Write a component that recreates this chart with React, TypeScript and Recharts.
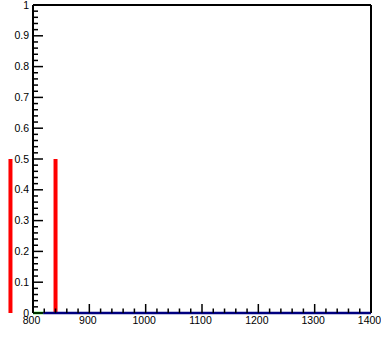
import { LineChart, Line, XAxis, YAxis, ReferenceLine } from 'recharts';

// axis labels
const xMajor = [800, 900, 1000, 1100, 1200, 1300, 1400];
const xLabels = ['800', '900', '1000', '1100', '1200', '1300', '1400'];
const yMajor = [0, 0.1, 0.2, 0.3, 0.4, 0.5, 0.6, 0.7, 0.8, 0.9, 1];
const yLabels = ['0', '0.1', '0.2', '0.3', '0.4', '0.5', '0.6', '0.7', '0.8', '0.9', '1'];

// peaks (red spikes)
const peakX = [760, 840];
const peakY = [0.5, 0.5];

// baseline segments
const greenX = [800, 818];
const greenY = [0, 0];
const blueX = [818, 1400];
const blueY = [0, 0];

// 4 minor ticks between majors
const subdivide = (major: number[], n: number) => {
  const out: number[] = [];
  for (let i = 0; i < major.length - 1; i++) {
    const step = (major[i + 1] - major[i]) / n;
    for (let k = 0; k < n; k++) out.push(Math.round((major[i] + k * step) * 1000) / 1000);
  }
  out.push(major[major.length - 1]);
  return out;
};
const xTicks = subdivide(xMajor, 5);
const yTicks = subdivide(yMajor, 5);

const greenData = greenX.map((x, i) => ({ x, y: greenY[i] }));
const blueData = blueX.map((x, i) => ({ x, y: blueY[i] }));

const font = 'Liberation Sans, Arial, Helvetica, sans-serif';

const XTick = ({ x, y, payload }: any) => {
  const idx = xMajor.indexOf(payload.value);
  const major = idx >= 0;
  return (
    <g>
      <line x1={x} x2={x} y1={y} y2={y - (major ? 9 : 4.5)} stroke="#000" strokeWidth={1.5} />
      {major && (
        <text x={x - 1.5} y={y + 11} textAnchor="middle" fontSize={10.5} fontFamily={font} fill="#000">
          {xLabels[idx]}
        </text>
      )}
    </g>
  );
};

const YTick = ({ x, y, payload }: any) => {
  const idx = yMajor.findIndex((v) => Math.abs(v - payload.value) < 1e-6);
  const major = idx >= 0;
  return (
    <g>
      <line x1={x} x2={x + (major ? 10 : 5)} y1={y} y2={y} stroke="#000" strokeWidth={1.5} />
      {major && (
        <text x={x - 4} y={y + 3.5} textAnchor="end" fontSize={10.5} fontFamily={font} fill="#000">
          {yLabels[idx]}
        </text>
      )}
    </g>
  );
};

export default function App() {
  return (
    <div style={{ position: 'absolute', left: 0, top: 0, background: '#fff' }}>
      <LineChart width={381} height={337} margin={{ top: 5, right: 10, bottom: 0, left: 0 }}>
        <XAxis
          dataKey="x"
          type="number"
          domain={[800, 1400]}
          ticks={xTicks}
          interval={0}
          height={24}
          tickSize={0}
          tickMargin={0}
          tickLine={false}
          axisLine={false}
          tick={<XTick />}
        />
        <YAxis
          type="number"
          domain={[0, 1]}
          ticks={yTicks}
          interval={0}
          width={33}
          tickSize={0}
          tickMargin={0}
          tickLine={false}
          axisLine={{ stroke: '#000', strokeWidth: 2 }}
          tick={<YTick />}
        />
        <ReferenceLine y={1} stroke="#000" strokeWidth={2} ifOverflow="visible" />
        <ReferenceLine x={1400} stroke="#000" strokeWidth={2} ifOverflow="visible" />
        {peakX.map((px, i) => (
          <ReferenceLine
            key={i}
            segment={[{ x: px, y: 0 }, { x: px, y: peakY[i] }]}
            stroke="#ff0000"
            strokeWidth={4}
            ifOverflow="visible"
          />
        ))}
        <Line data={greenData} dataKey="y" stroke="#00cc00" strokeWidth={2.5} dot={false} activeDot={false} isAnimationActive={false} />
        <Line data={blueData} dataKey="y" stroke="#000080" strokeWidth={2.5} dot={false} activeDot={false} isAnimationActive={false} />
      </LineChart>
    </div>
  );
}
